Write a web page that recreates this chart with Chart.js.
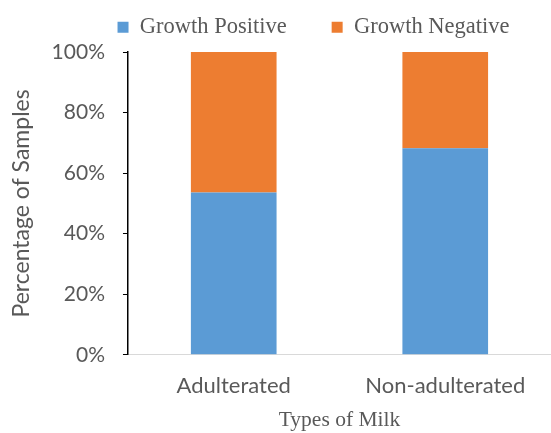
<!DOCTYPE html>
<html>
<head>
<meta charset="utf-8">
<script src="https://cdn.jsdelivr.net/npm/chart.js@4/dist/chart.umd.min.js"></script>
<style>
  html, body { margin: 0; padding: 0; background: #ffffff; }
  #wrap { width: 551px; height: 433px; position: relative; }
</style>
</head>
<body>
<div id="wrap"><canvas id="c" width="551" height="433"></canvas></div>
<script>
const categories = ['Adulterated', 'Non-adulterated'];
const seriesNames = ['Growth Positive', 'Growth Negative'];
const growthPositive = [53.6, 68.2];
const growthNegative = [46.4, 31.8];
const yTicks = [0, 20, 40, 60, 80, 100];

const SANS = 'Lato, "Open Sans", sans-serif';
const SERIF = '"Liberation Serif", "DejaVu Serif", serif';
const GRAY = '#595959';

const legendShift = {
  id: 'legendShift',
  afterLayout(chart) {
    const lg = chart.legend;
    if (lg) {
      const dx = 36;
      lg.left += dx; lg.right += dx;
      lg.top = -29; lg.bottom = 50; lg.height = lg.bottom - lg.top;
    }
  }
};

new Chart(document.getElementById('c'), {
  type: 'bar',
  data: {
    labels: categories,
    datasets: [
      { label: seriesNames[0], data: growthPositive, backgroundColor: '#5B9BD5', borderWidth: 0 },
      { label: seriesNames[1], data: growthNegative, backgroundColor: '#ED7D31', borderWidth: 0 }
    ]
  },
  options: {
    responsive: false,
    animation: false,
    devicePixelRatio: 1,
    layout: { padding: { top: 12, right: 0, bottom: 0, left: 4 } },
    datasets: { bar: { barPercentage: 0.405, categoryPercentage: 1.0 } },
    plugins: {
      tooltip: { enabled: false },
      legend: {
        position: 'top',
        align: 'center',
        maxHeight: 40,
        labels: {
          boxWidth: 11,
          boxHeight: 11,
          padding: 45,
          color: GRAY,
          font: { family: SERIF, size: 22.5 }
        }
      }
    },
    scales: {
      x: {
        stacked: true,
        offset: true,
        grid: { display: false, drawTicks: false },
        border: { display: true, color: '#D9D9D9', width: 1 },
        ticks: { color: GRAY, font: { family: SANS, size: 22 }, padding: 18, maxRotation: 0 },
        title: { display: true, text: 'Types of Milk', color: GRAY, font: { family: SERIF, size: 21.5 }, padding: { top: -10, bottom: 0 } }
      },
      y: {
        stacked: true,
        min: 0,
        max: 100,
        afterBuildTicks(scale) { scale.ticks = yTicks.map(v => ({ value: v })); },
        grid: { display: true, drawOnChartArea: false, drawTicks: true, tickLength: 5, color: '#000000' },
        border: { display: true, color: '#000000', width: 1.5 },
        ticks: { color: GRAY, font: { family: SANS, size: 21 }, padding: 18, callback: v => v + '%' },
        title: { display: true, text: 'Percentage of Samples', color: GRAY, font: { family: SANS, size: 23 }, padding: { top: 4, bottom: -2 } }
      }
    }
  },
  plugins: [legendShift]
});
</script>
</body>
</html>
